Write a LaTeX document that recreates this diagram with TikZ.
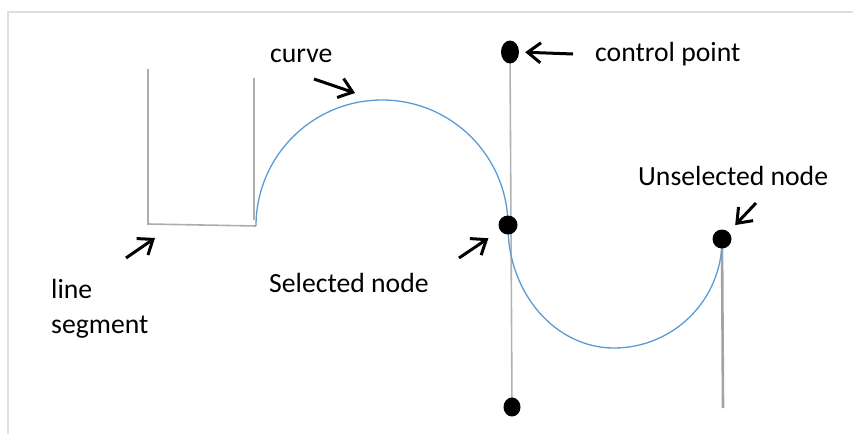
\documentclass[tikz,border=0pt]{standalone}
\usepackage{fontspec}
\setmainfont{Carlito}
\usetikzlibrary{arrows.meta,shapes.geometric,backgrounds}
\definecolor{curveblue}{RGB}{91,155,213}
\tikzset{
  dot/.style    ={circle,fill=black,inner sep=0pt,minimum size=19pt},
  edot/.style   ={ellipse,fill=black,inner sep=0pt,minimum width=18pt,minimum height=23pt},
  lbl/.style    ={font=\fontsize{27.7}{34}\selectfont,inner sep=0pt},
  ptr/.style    ={-{Straight Barb[length=13pt,width=20pt]},line width=3pt},
  handle/.style ={draw=black!30,line width=1.6pt},
  seg/.style    ={draw=black!32,line width=1.6pt},
  crv/.style    ={draw=curveblue,line width=1.3pt},
  frame/.style  ={draw=black!13,line width=1.6pt},
}

\begin{document}
\begin{tikzpicture}[x=1pt,y=-1pt]
\useasboundingbox (0,0) rectangle (853,434);
% frame
\coordinate (F0) at (8,12);
\coordinate (F1) at (853,12);
\coordinate (F2) at (8,434);
\draw[frame] (F1) -- (F0) -- (F2);
% points
\node[edot] (CPT) at (510,52) {};
\node[dot] (SEL) at (508,225) {};
\node[dot] (USEL) at (722,239) {};
\node[edot,minimum width=17pt,minimum height=19pt] (CPB) at (512,407) {};
\coordinate (UB) at (723,408);
% line segment
\coordinate (LA) at (148,69);
\coordinate (LB) at (148,224);
\coordinate (LC) at (256,226);
\coordinate (LD) at (254,78);
\coordinate (LE) at (254,220);
% labels
\node[lbl,anchor=base west] (curveL) at (270,62) {curve};
\node[lbl,anchor=base west] (cpL) at (595,61) {control point};
\node[lbl,anchor=base west] (uselL) at (638,185) {Unselected node};
\node[lbl,anchor=base west] (selL) at (269,292) {Selected node};
\node[lbl,anchor=base west] (segL) at (51,298) {line};
\node[lbl,anchor=base west] (segL2) at (51,333) {segment};
% pointers
\coordinate (curveT) at (314,79);
\coordinate (curveH) at (355,93);
\coordinate (cpT) at (573,54);
\coordinate (segT) at (126,258);
\coordinate (segH) at (155,238);
\coordinate (selT) at (459,258);
\coordinate (uselT) at (756,203);
\draw[ptr] (curveT) -- (curveH);
\draw[ptr,shorten >=6pt] (cpT) -- (CPT.east);
\draw[ptr] (segT) -- (segH);
\draw[ptr,shorten >=14pt] (selT) -- (SEL);
\draw[ptr,shorten >=9.5pt] (uselT) -- (USEL);
\begin{scope}[on background layer]
\draw[seg] (LA) -- (LB) -- (LC);
\draw[seg] (LD) -- (LE);
\draw[handle] (CPT.center) -- (CPB.center);
\draw[handle,draw=black!36,line width=2.6pt] (USEL.center) -- (UB);
\draw[crv] (LC) arc[start angle=180,end angle=360,radius=126]
  arc[x radius=106,y radius=122,start angle=180,end angle=90]
  arc[x radius=108,y radius=108,start angle=90,end angle=0];
\end{scope}
\end{tikzpicture}
\end{document}
